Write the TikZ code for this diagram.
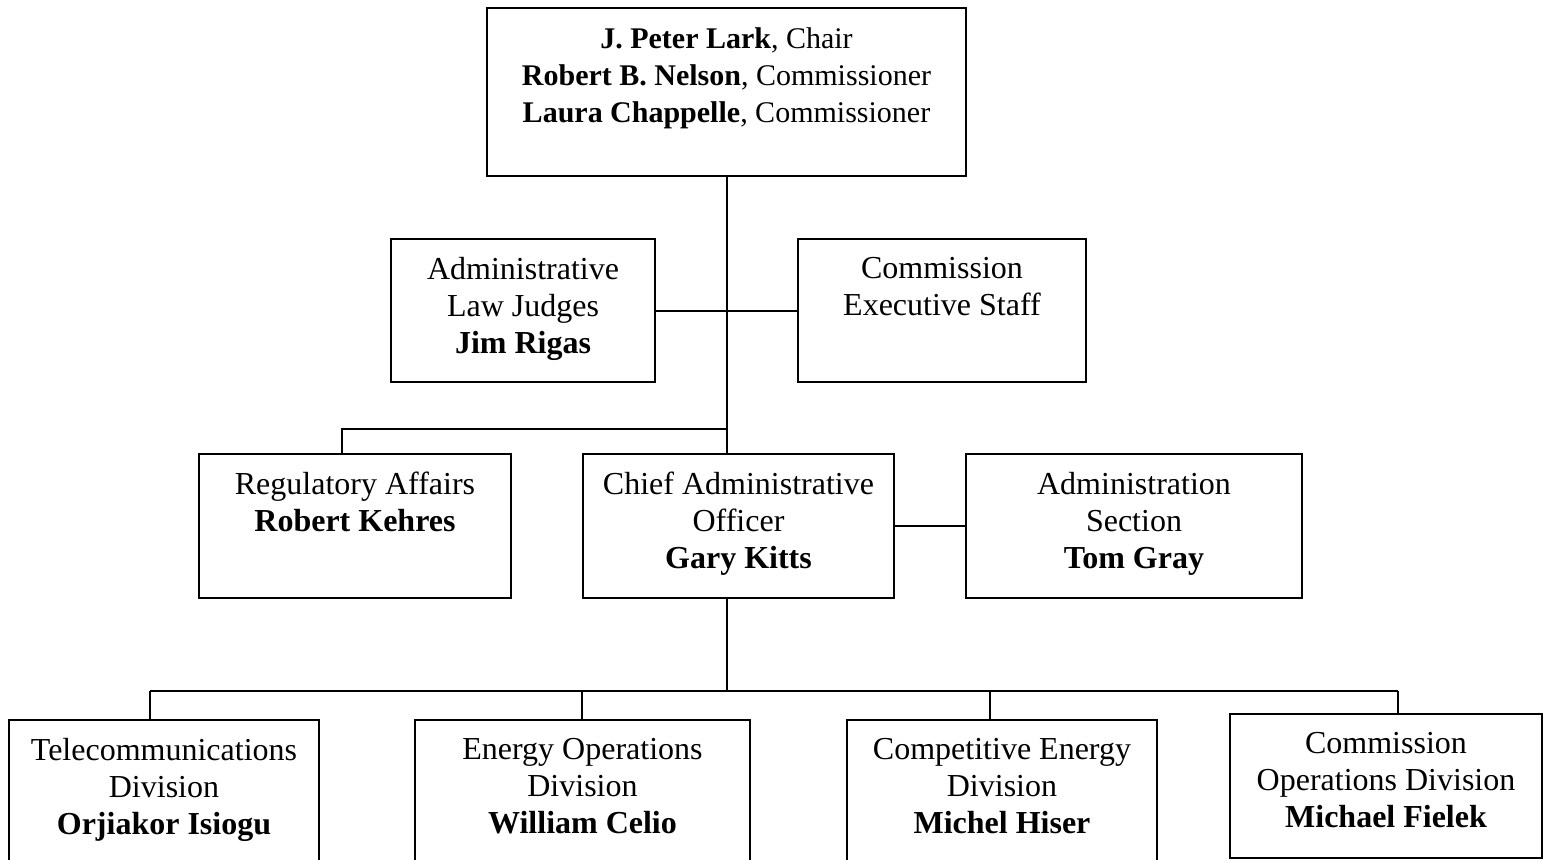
\documentclass[tikz,border=0pt]{standalone}
\usepackage{fontspec}
\setmainfont{Liberation Serif}
\begin{document}
\begin{tikzpicture}[x=1pt,y=-1pt,
  box/.style={draw, line width=2pt, inner sep=0pt, anchor=north west},
  txt/.style={anchor=north, align=center, inner sep=0pt, font=\fontsize{32}{37}\selectfont},
  toptxt/.style={txt, font=\fontsize{30}{37}\selectfont},
  conn/.style={line width=2pt}]
\useasboundingbox (0,0) rectangle (1549,859);
\clip (0,0) rectangle (1549,859);
% boxes
\node[box, minimum width=479pt, minimum height=168pt] (top) at (486,7) {};
\node[box, minimum width=264pt, minimum height=143pt] (alj) at (390,238) {};
\node[box, minimum width=288pt, minimum height=143pt] (ces) at (797,238) {};
\node[box, minimum width=312pt, minimum height=144pt] (ra) at (198,453) {};
\node[box, minimum width=311pt, minimum height=144pt] (cao) at (582,453) {};
\node[box, minimum width=336pt, minimum height=144pt] (as) at (965,453) {};
\node[box, minimum width=310pt, minimum height=160pt] (tel) at (8,719) {};
\node[box, minimum width=335pt, minimum height=160pt] (eod) at (414,719) {};
\node[box, minimum width=310pt, minimum height=160pt] (ced) at (846,719) {};
\node[box, minimum width=312pt, minimum height=144pt] (cod) at (1229,713) {};
% texts
\node[toptxt] (top-t) at ([yshift=-20pt]top.north) {\textbf{J. Peter Lark}, Chair\\\textbf{Robert B. Nelson}, Commissioner\\\textbf{Laura Chappelle}, Commissioner};
\node[txt] (alj-t) at ([yshift=-19pt]alj.north) {Administrative\\Law Judges\\\textbf{Jim Rigas}};
\node[txt] (ces-t) at ([yshift=-19pt]ces.north) {Commission\\Executive Staff};
\node[txt] (ra-t) at ([yshift=-19pt]ra.north) {Regulatory Affairs\\\textbf{Robert Kehres}};
\node[txt] (cao-t) at ([yshift=-19pt]cao.north) {Chief Administrative\\Officer\\\textbf{Gary Kitts}};
\node[txt] (as-t) at ([yshift=-19pt]as.north) {Administration\\Section\\\textbf{Tom Gray}};
\node[txt] (tel-t) at ([yshift=-19pt]tel.north) {Telecommunications\\Division\\\textbf{Orjiakor Isiogu}};
\node[txt] (eod-t) at ([yshift=-19pt]eod.north) {Energy Operations\\Division\\\textbf{William Celio}};
\node[txt] (ced-t) at ([yshift=-19pt]ced.north) {Competitive Energy\\Division\\\textbf{Michel Hiser}};
\node[txt] (cod-t) at ([yshift=-19pt]cod.north) {Commission\\Operations Division\\\textbf{Michael Fielek}};
% connector coordinates
\coordinate (jra) at (342,429);
\coordinate (b1) at (150,691);
\coordinate (b2) at (582,691);
\coordinate (b3) at (990,691);
\coordinate (b4) at (1398,691);
% connectors
\draw[conn] (top.south) -- (top.south |- cao.north);
\draw[conn] (alj.east) -- (ces.west);
\draw[conn] (top.south |- jra) -- (jra) -- (jra |- ra.north);
\draw[conn] (cao.east) -- (as.west);
\draw[conn] (top.south |- cao.south) -- (top.south |- b1);
\draw[conn] (b1) -- (b4);
\draw[conn] (b1) -- (b1 |- tel.north);
\draw[conn] (b2) -- (b2 |- eod.north);
\draw[conn] (b3) -- (b3 |- ced.north);
\draw[conn] (b4) -- (b4 |- cod.north);
\end{tikzpicture}
\end{document}
